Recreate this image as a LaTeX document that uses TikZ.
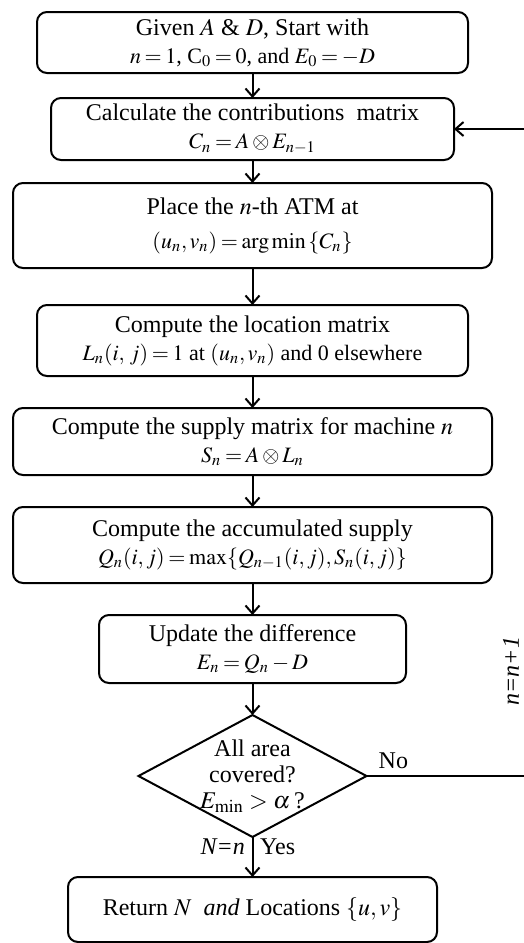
\documentclass[tikz,border=0pt]{standalone}
\usepackage{mathptmx}
\usepackage{fontspec}
\setmainfont{Liberation Serif}
\usetikzlibrary{arrows.meta, positioning, shapes.geometric}

% smaller, tighter formula lines
\newcommand{\fml}{\fontsize{11}{13}\selectfont\thickmuskip=3mu plus 2mu\medmuskip=2.5mu plus 1mu}

\begin{document}
\begin{tikzpicture}[
    font=\fontsize{12}{14}\selectfont,
    box/.style={rectangle, rounded corners=5pt, align=center, draw=black, line width=1pt, inner sep=2pt, outer sep=0pt},
    decision/.style={diamond, draw=black, line width=1pt, minimum width=114pt, minimum height=61pt, inner sep=0pt, outer sep=0pt},
    arrow/.style={-{Straight Barb[length=4pt, width=7pt]}, line width=1pt}
]
\useasboundingbox (0,0) rectangle (262pt,-471.5pt);

% Nodes
\node[box, minimum width=215.5pt, minimum height=30.5pt] (start) at (126.25pt,-21.25pt)
    {Given $A$ \& $D$, Start with\\{\fml $n=1$, C$_0=0$, and $E_0=-D$}};
\node[box, minimum width=201.5pt, minimum height=31pt, below=12.5pt of start] (contrib)
    {Calculate the contributions~ matrix\\{\fml $C_n=A\otimes E_{n-1}$}};
\node[box, minimum width=239.5pt, minimum height=42.5pt, below=11.5pt of contrib] (place)
    {Place the $n$-th ATM at\\[3pt]{\fml $(u_n,v_n)=\arg\min\,\{C_n\}$}};
\node[box, minimum width=215.5pt, minimum height=35.5pt, below=18.5pt of place] (location)
    {Compute the location matrix\\{\fml $L_n(i,\,j)=1$ at $(u_n,v_n)$ and 0 elsewhere}};
\node[box, minimum width=239.5pt, minimum height=33.5pt, below=16pt of location] (supply)
    {Compute the supply matrix for machine $n$\\{\fml $S_n=A\otimes L_n$}};
\node[box, minimum width=239.5pt, minimum height=38pt, below=16pt of supply] (accum)
    {Compute the accumulated supply\\{\fml $Q_n(i,j)=\max\{Q_{n-1}(i,j),S_n(i,j)\}$}};
\node[box, minimum width=153.5pt, minimum height=34pt, below=16pt of accum] (update)
    {Update the difference\\{\fml $E_n=Q_n-D$}};
\node[decision, below=16pt of update] (check) {};
\node[align=center, font=\fontsize{12}{13}\selectfont] (checktext) at (check)
    {All area\\covered?\\$E_{\min}>\alpha$\,?};
\node[box, minimum width=184.5pt, minimum height=32.5pt, below=20pt of check] (result)
    {Return $N$~ \emph{and} Locations $\{u,v\}$};

% Arrows
\draw[arrow] (start) -- (contrib);
\draw[arrow] (contrib) -- (place);
\draw[arrow] (place) -- (location);
\draw[arrow] (location) -- (supply);
\draw[arrow] (supply) -- (accum);
\draw[arrow] (accum) -- (update);
\draw[arrow] (update) -- (check);
\draw[arrow] (check) -- node[pos=0.25, right] {Yes} node[pos=0.25, left] {\textit{N=n}} (result);

% Loop back
\coordinate (loopcorner) at ([xshift=84pt]check.east);
\draw[arrow] (check.east) -- node[pos=0.16, above] {No} (loopcorner) |- (contrib.east);
\node[rotate=90, font=\fontsize{12}{14}\selectfont\itshape] (incr) at (255.5pt,-335.5pt) {n=n+1};

\end{tikzpicture}
\end{document}
